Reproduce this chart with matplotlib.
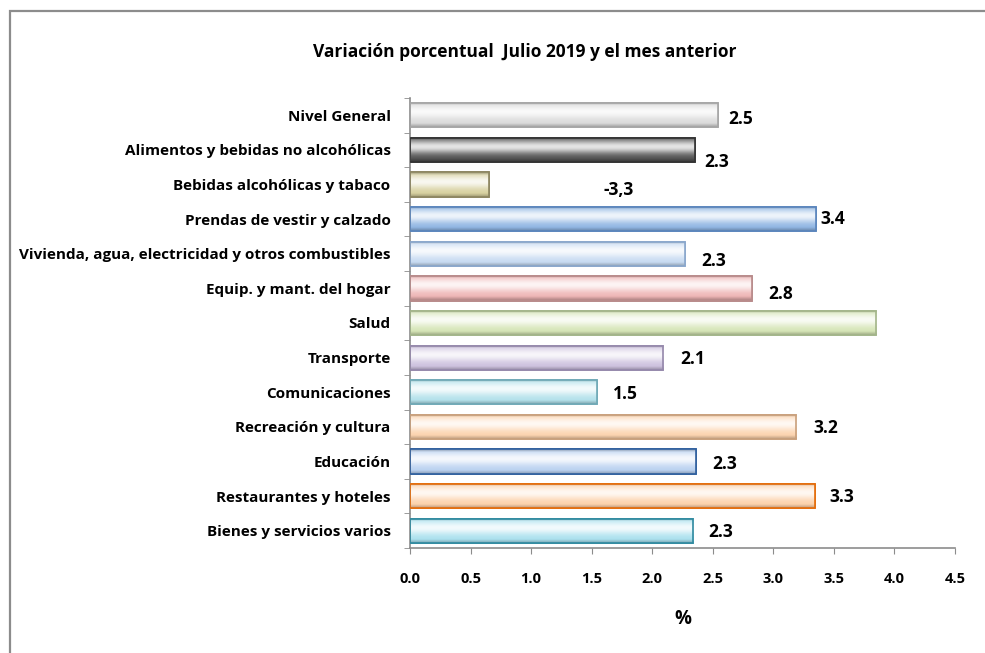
import numpy as np
import matplotlib.pyplot as plt
import matplotlib.colors as mcolors
from matplotlib.patches import Rectangle

plt.rcParams['font.family'] = ['Open Sans', 'DejaVu Sans']

categorias = ['Nivel General', 'Alimentos y bebidas no alcohólicas', 'Bebidas alcohólicas y tabaco',
              'Prendas de vestir y calzado', 'Vivienda, agua, electricidad y otros combustibles',
              'Equip. y mant. del hogar', 'Salud', 'Transporte', 'Comunicaciones',
              'Recreación y cultura', 'Educación', 'Restaurantes y hoteles', 'Bienes y servicios varios']
valores = [2.54, 2.35, 0.65, 3.35, 2.27, 2.82, 3.85, 2.09, 1.54, 3.19, 2.36, 3.34, 2.34]
etiquetas = ['2.5', '2.3', '-3,3', '3.4', '2.3', '2.8', '', '2.1', '1.5', '3.2', '2.3', '3.3', '2.3']
colores = ['#d9d9d9', '#4d4d4d', '#d6cf9c', '#8db4e2', '#c5d9f1', '#eeb4b4', '#d4e4b4',
           '#cbbfdd', '#b0e0ea', '#fcd2ac', '#b8d0f0', '#fcd0a8', '#a8e0ee']
bordes = ['#a6a6a6', '#333333', '#8c8560', '#5a85bd', '#8aa7cc', '#b88a8a', '#a3b58a',
          '#9588ab', '#6fa9b6', '#c9a07c', '#2f5f9e', '#e46c0a', '#2f8aa0']
# label offsets in points (dx, dy) from bar end
desp = [(8, -3), (7, -9), (83, -4), (3, 0), (12, -5), (12, -4), (0, 0),
        (12, -1), (12, -1), (12, -1), (12, -2), (11, -1), (11, -1)]

fig = plt.figure(figsize=(9.85, 6.53), dpi=100)
fig.patches.append(Rectangle((10 / 985, -0.1), 1.2, 1 - 11 / 653 + 0.1, transform=fig.transFigure,
                             fill=False, edgecolor='#8c8c8c', linewidth=1.6))
ax = fig.add_axes([410 / 985, 1 - 548 / 653, 545 / 985, 450 / 653])

n = len(categorias)
y = np.arange(n)
alto = 0.7
t = np.linspace(0, 1, 64)
blanco = 0.85 * np.exp(-((t - 0.38) / 0.28) ** 2)
oscuro = np.where(t > 0.85, (t - 0.85) / 0.15 * 0.25, 0) + np.where(t < 0.08, 0.15, 0)

for i in range(n):
    base = np.array(mcolors.to_rgb(colores[i]))
    grad = base[None, :] * (1 - blanco[:, None]) + blanco[:, None]
    grad = grad * (1 - oscuro[:, None])
    grad = np.clip(grad, 0, 1)
    img = np.repeat(grad[:, None, :], 2, axis=1)
    bar = ax.barh(y[i], valores[i], height=alto, color=colores[i], edgecolor=bordes[i],
                  linewidth=1.2, zorder=2)[0]
    im = ax.imshow(img, extent=(0, valores[i], y[i] + alto / 2, y[i] - alto / 2),
                   aspect='auto', zorder=2.5, interpolation='bilinear')
    im.set_clip_path(bar)
    ax.barh(y[i], valores[i], height=alto, fill=False, edgecolor=bordes[i], linewidth=1.2, zorder=3)
    if etiquetas[i]:
        ax.annotate(etiquetas[i], (valores[i], y[i]), xytext=desp[i], textcoords='offset points',
                    ha='left', va='center', fontsize=12.5, fontweight='bold', color='black')

ax.set_xlim(0, 4.5)
ax.set_ylim(n - 0.5, -0.5)
ax.set_xticks(np.arange(0, 4.51, 0.5))
ax.set_xticklabels([f'{v:.1f}' for v in np.arange(0, 4.51, 0.5)], fontsize=10.5, fontweight='bold')
ax.set_yticks(y)
ax.set_yticklabels(categorias, fontsize=11, fontweight='bold')
ax.set_yticks(np.arange(-0.5, n, 1), minor=True)
ax.tick_params(axis='y', which='major', length=0, pad=14)
ax.tick_params(axis='y', which='minor', length=4, color='#8c8c8c', direction='out')
ax.tick_params(axis='x', length=4, color='#8c8c8c', direction='out', pad=13)
for s in ['top', 'right']:
    ax.spines[s].set_visible(False)
for s in ['left', 'bottom']:
    ax.spines[s].set_color('#8c8c8c')
    ax.spines[s].set_linewidth(1.2)
ax.set_xlabel('%', fontsize=13.5, fontweight='bold', labelpad=17)

fig.text(525 / 985, 1 - 52 / 653, 'Variación porcentual  Julio 2019 y el mes anterior',
         ha='center', va='center', fontsize=12.5, fontweight='bold')

fig.savefig('out.png', dpi=100)
